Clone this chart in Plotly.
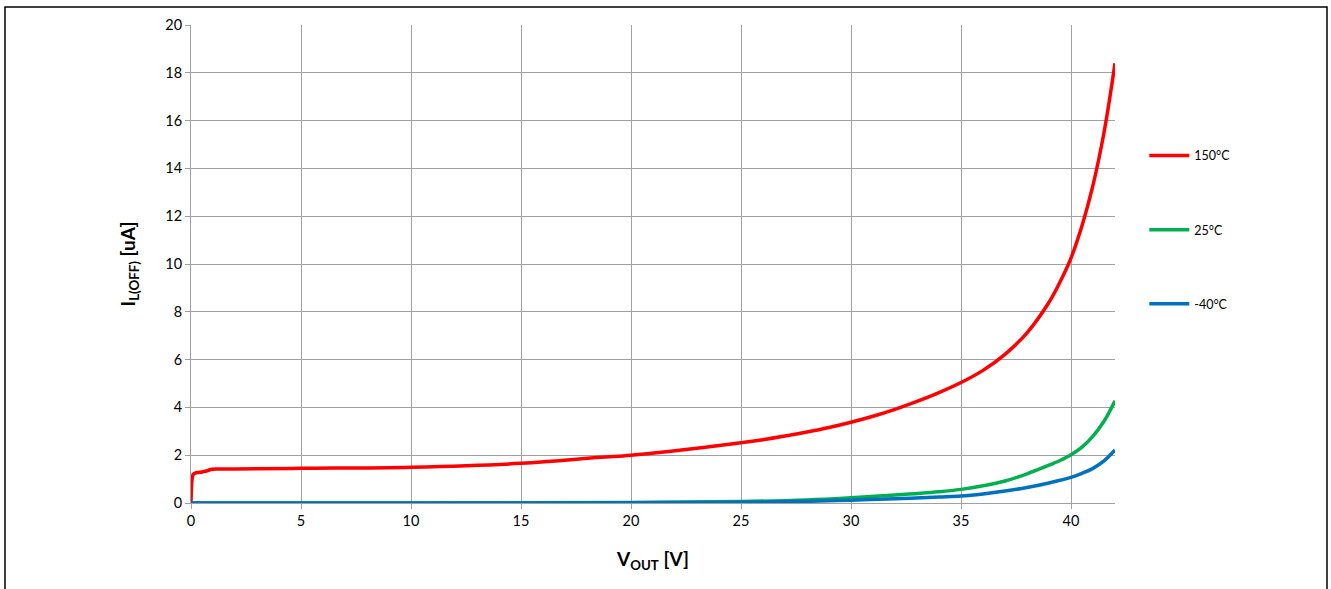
import plotly.graph_objects as go

# 150°C
x_150 = [0, 0.05, 0.1, 0.25, 0.5, 0.7, 0.95, 1.2, 2, 5, 10, 15, 18.6, 20, 22.5, 25, 26, 27, 28, 29, 30,
         31, 32, 33, 34, 35, 36, 37, 38, 39, 39.5, 40, 40.5, 41, 41.5, 42]
y_150 = [0, 1.0, 1.2, 1.27, 1.3, 1.34, 1.41, 1.42, 1.42, 1.45, 1.5, 1.66, 1.91, 2.0, 2.24, 2.52, 2.65, 2.8, 2.97, 3.16, 3.38,
         3.63, 3.92, 4.25, 4.62, 5.04, 5.55, 6.22, 7.12, 8.4, 9.25, 10.25, 11.6, 13.3, 15.5, 18.4]

# 25°C
x_25 = [0, 10, 20, 25, 28, 30, 32, 34, 35, 36, 37, 38, 39, 39.5, 40, 40.5, 41, 41.5, 42]
y_25 = [0, 0.005, 0.02, 0.06, 0.13, 0.22, 0.33, 0.47, 0.57, 0.72, 0.92, 1.22, 1.58, 1.78, 2.02, 2.34, 2.8, 3.42, 4.28]

# -40°C
x_m40 = [0, 10, 20, 25, 28, 30, 32, 34, 35, 36, 37, 38, 39, 40, 40.5, 41, 41.5, 42]
y_m40 = [0, 0.003, 0.01, 0.03, 0.07, 0.12, 0.18, 0.25, 0.29, 0.38, 0.5, 0.65, 0.84, 1.07, 1.24, 1.45, 1.76, 2.22]

series_names = ["150°C", "25°C", "-40°C"]
colors = ["#FF0000", "#00B050", "#0070C0"]

x_ticks = [0, 5, 10, 15, 20, 25, 30, 35, 40]
y_ticks = [0, 2, 4, 6, 8, 10, 12, 14, 16, 18, 20]

FONT = "Lato, 'Open Sans', sans-serif"

fig = go.Figure()
data = [(x_150, y_150), (x_25, y_25), (x_m40, y_m40)]
legends = ["legend", "legend2", "legend3"]
for (xs, ys), name, col, lg in zip(data, series_names, colors, legends):
    fig.add_trace(go.Scatter(x=xs, y=ys, mode="lines", name=name, showlegend=True,
                             line=dict(color=col, width=3.5, shape="spline", smoothing=1.0),
                             legend=lg))

grid = "#A0A0A0"
leg_common = dict(xanchor="left", yanchor="middle", font=dict(size=12.5),
                  bgcolor="rgba(0,0,0,0)", itemwidth=40)
fig.update_layout(
    width=1331, height=589,
    showlegend=True,
    margin=dict(l=191, r=216, t=25, b=86),
    paper_bgcolor="white", plot_bgcolor="white",
    font=dict(family=FONT, size=14, color="#000000"),
    xaxis=dict(range=[0, 42], tickvals=x_ticks, showgrid=True, gridcolor=grid, gridwidth=1,
               showline=True, linecolor=grid, linewidth=1, ticks="outside", ticklen=5,
               tickcolor=grid, zeroline=False, tickfont=dict(size=14.5),
               title=dict(text="<b>V<sub>OUT</sub> [V]</b>", font=dict(size=19), standoff=24)),
    yaxis=dict(range=[0, 20], tickvals=y_ticks, showgrid=True, gridcolor=grid, gridwidth=1,
               showline=True, linecolor=grid, linewidth=1, ticks="outside", ticklen=5,
               tickcolor=grid, zeroline=False, tickfont=dict(size=14.5),
               title=dict(text="<b>I<sub>L(OFF)</sub> [uA]</b>", font=dict(size=19), standoff=24)),
    legend=dict(x=1.0317, y=0.726, **leg_common),
    legend2=dict(x=1.0317, y=0.571, **leg_common),
    legend3=dict(x=1.0317, y=0.416, **leg_common),
    shapes=[dict(type="rect", xref="paper", yref="paper",
                 x0=(5 - 191) / 924, x1=(1327 - 191) / 924,
                 y0=-0.3, y1=(503 - 7) / 478,
                 line=dict(color="black", width=1.5), fillcolor="rgba(0,0,0,0)", layer="below")],
)

fig.write_html("out.html", config={"displayModeBar": False},
               post_script="document.body.style.margin='0';document.body.style.padding='0';"
                           "document.body.style.overflow='hidden';")
